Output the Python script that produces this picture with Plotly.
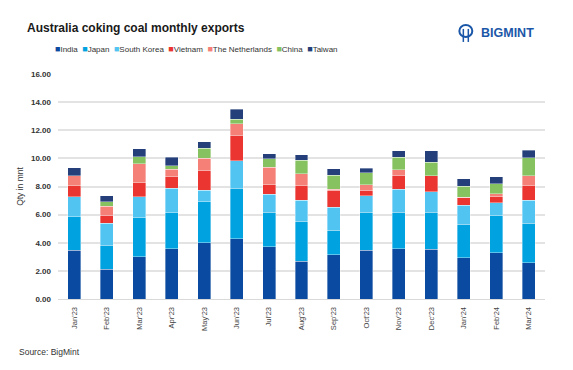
import plotly.graph_objects as go

months = ["Jan'23", "Feb'23", "Mar'23", "Apr'23", "May'23", "Jun'23", "Jul'23",
          "Aug'23", "Sep'23", "Oct'23", "Nov'23", "Dec'23", "Jan'24", "Feb'24", "Mar'24"]

india = [3.47, 2.12, 3.00, 3.59, 4.00, 4.27, 3.71, 2.67, 3.14, 3.47, 3.59, 3.54, 2.95, 3.28, 2.57]
japan = [2.38, 1.71, 2.78, 2.54, 2.92, 3.60, 2.45, 2.85, 1.76, 2.69, 2.57, 2.62, 2.36, 2.67, 2.83]
south_korea = [1.43, 1.55, 1.50, 1.74, 0.83, 1.95, 1.29, 1.50, 1.64, 1.19, 1.64, 1.47, 1.37, 0.90, 1.64]
vietnam = [0.78, 0.59, 0.99, 0.83, 1.36, 1.78, 0.66, 1.02, 1.16, 0.38, 1.00, 1.12, 0.55, 0.43, 1.00]
netherlands = [0.69, 0.64, 1.34, 0.53, 0.90, 0.88, 1.26, 0.88, 0.10, 0.38, 0.38, 0.03, 0.02, 0.19, 0.71]
china = [0.02, 0.31, 0.52, 0.23, 0.71, 0.32, 0.59, 0.95, 1.00, 0.86, 0.90, 0.95, 0.76, 0.73, 1.31]
taiwan = [0.55, 0.41, 0.55, 0.62, 0.48, 0.71, 0.38, 0.38, 0.45, 0.33, 0.45, 0.83, 0.55, 0.50, 0.52]

series_names = ["India", "Japan", "South Korea", "Vietnam", "The Netherlands", "China", "Taiwan"]
series_values = [india, japan, south_korea, vietnam, netherlands, china, taiwan]
series_colors = ["#0a4aa0", "#00a2e0", "#52c4f2", "#ea3530", "#f58078", "#86c260", "#243f7a"]

y_ticks = [0, 2, 4, 6, 8, 10, 12, 14, 16]

W, H = 573, 370
OFF = 8  # the page's default body margin shifts the figure by this many pixels
# plot area in screen pixels: x 56..545, y 74..298.7
ML = 56 - OFF
MT = 74 - OFF
MR = W - (545 - OFF)
MB = H - (298.7 - OFF)

fig = go.Figure()
for name, vals, col in zip(series_names, series_values, series_colors):
    fig.add_trace(go.Bar(
        x=months, y=vals, name=name,
        marker=dict(color=col, line=dict(color="rgba(255,255,255,0.6)", width=0.6)),
    ))

FONT = "Liberation Sans, Arial, sans-serif"


def px_x(p):
    """screen pixel x -> paper coordinate"""
    return (p - OFF - ML) / (W - ML - MR)


def px_y(p):
    """screen pixel y -> paper coordinate"""
    return (H - MB - (p - OFF)) / (H - MT - MB)


legend_text = "&nbsp;&nbsp;".join(
    f"<span style='color:{c};font-size:9px'>■</span>{n}" for n, c in zip(series_names, series_colors)
)

fig.update_layout(
    barmode="stack",
    bargap=0.6,
    width=W, height=H,
    margin=dict(l=ML, r=MR, t=MT, b=MB, pad=0),
    paper_bgcolor="white", plot_bgcolor="white",
    font=dict(family=FONT, color="#333333"),
    showlegend=False,
    title=dict(
        text="<b>Australia coking coal monthly exports</b>",
        x=(27 - OFF) / W, xanchor="left", xref="container",
        y=1 - (28 - OFF) / H, yanchor="middle", yref="container",
        font=dict(size=12, color="#1a1a1a", family=FONT),
    ),
    yaxis=dict(
        range=[0, 16], tickvals=y_ticks,
        tickformat=".2f",
        showgrid=True, gridcolor="#e3e3e3", gridwidth=1.5,
        zeroline=False, showline=False,
        ticks="", ticklabelstandoff=6,
        tickfont=dict(size=8, color="#333333", family=FONT, weight="bold"),
        title=dict(text="Qty in mnt", font=dict(size=8.5, color="#333333"), standoff=5),
    ),
    xaxis=dict(
        showgrid=False, showline=True, linecolor="#d9d9d9", linewidth=1,
        ticks="", tickangle=-90, ticklabelstandoff=4,
        tickfont=dict(size=7.5, color="#444444", family=FONT),
    ),
    annotations=[
        dict(text=legend_text, x=px_x(51), xref="paper", xanchor="left",
             y=px_y(49), yref="paper", yanchor="middle",
             showarrow=False, font=dict(size=8, color="#333333", family=FONT)),
        dict(text="Source: BigMint", x=px_x(15), xref="paper", xanchor="left",
             y=px_y(352), yref="paper", yanchor="middle",
             showarrow=False, font=dict(size=8.5, color="#333333", family=FONT)),
        dict(text="<b>BIGMINT</b>", x=px_x(479), xref="paper", xanchor="left",
             y=px_y(33), yref="paper", yanchor="middle",
             showarrow=False, font=dict(size=12.5, color="#1b57a8", family=FONT)),
    ],
)

# simple logo icon
fig.add_shape(type="circle", xref="paper", yref="paper",
              x0=px_x(459), x1=px_x(472), y0=px_y(37), y1=px_y(25),
              line=dict(color="#1b57a8", width=2), fillcolor="white")
for xp in (463, 468):
    fig.add_shape(type="line", xref="paper", yref="paper",
                  x0=px_x(xp), x1=px_x(xp), y0=px_y(42), y1=px_y(29),
                  line=dict(color="#1b57a8", width=1.5))

fig.write_html("out.html")
